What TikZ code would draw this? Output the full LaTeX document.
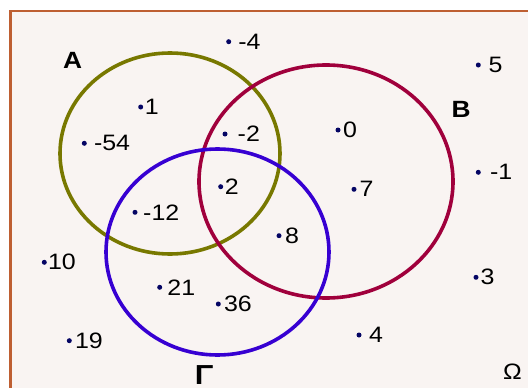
\documentclass[tikz,border=0pt]{standalone}
\usepackage{fontspec}
\setmainfont{Liberation Sans}[FakeStretch=1.12]
\usetikzlibrary{positioning}

\definecolor{frameline}{RGB}{190,95,50}
\definecolor{framefill}{RGB}{249,244,242}
\definecolor{setAcol}{RGB}{120,120,0}
\definecolor{setBcol}{RGB}{160,0,60}
\definecolor{setGcol}{RGB}{55,0,210}
\definecolor{dotcol}{RGB}{5,5,100}

\begin{document}
\begin{tikzpicture}[x=1pt, y=-1pt,
    dot/.style={circle, fill=dotcol, inner sep=0pt, minimum size=5pt},
    numlbl/.style={inner sep=0pt, font=\fontsize{22.3}{26}\selectfont},
    setlbl/.style={inner sep=0pt, font=\fontsize{23.5}{28}\selectfont\bfseries},
    setline/.style={line width=3.6pt}]
    \useasboundingbox (0,0) rectangle (528,388);
    \clip (0,0) rectangle (528,388);

    % Universal set
    \draw[line width=2.6pt, draw=frameline, fill=framefill] (10.5,11) rectangle (540,400);

    % Sets A, B, Gamma
    \draw[setline, setAcol] (170,153.5) ellipse [x radius=110pt, y radius=100.5pt];
    \draw[setline, setBcol] (326,181.5) ellipse [x radius=127pt, y radius=116.5pt];
    \draw[setline, setGcol] (217.5,252) ellipse [x radius=111.5pt, y radius=103pt];

    % Elements
    \foreach \x/\y/\t/\g [count=\i] in {
        228.7/41.7/-4/9.5, 140.7/107/1/4, 84.3/143.3/-54/9.5, 225/134/-2/12.5,
        220.7/186.7/2/4, 478.3/65/5/10, 338/130/0/5, 478.3/172.3/-1/11.5,
        354/189.3/7/5.5, 135/212.3/-12/8, 44.3/262.3/10/3.5, 159.7/287.3/21/7.5,
        218.3/304/36/5.5, 69.3/340.7/19/5.5, 279/235.7/8/6, 476/277.3/3/4.5,
        359/335/4/10} {
        \node[dot] (p\i) at (\x,\y) {};
        \node[numlbl, right=\g pt of p\i.center] (t\i) {\t};
    }

    % Set names
    \node[setlbl] (nameA) at (72.7,60.7) {A};
    \node[setlbl] (nameB) at (461.2,109) {B};
    \node[setlbl, font=\fontsize{27.5}{32}\selectfont\bfseries] (nameG) at (204.2,374.8) {Γ};
    \node[numlbl] (nameO) at (512.5,372) {Ω};
\end{tikzpicture}
\end{document}
